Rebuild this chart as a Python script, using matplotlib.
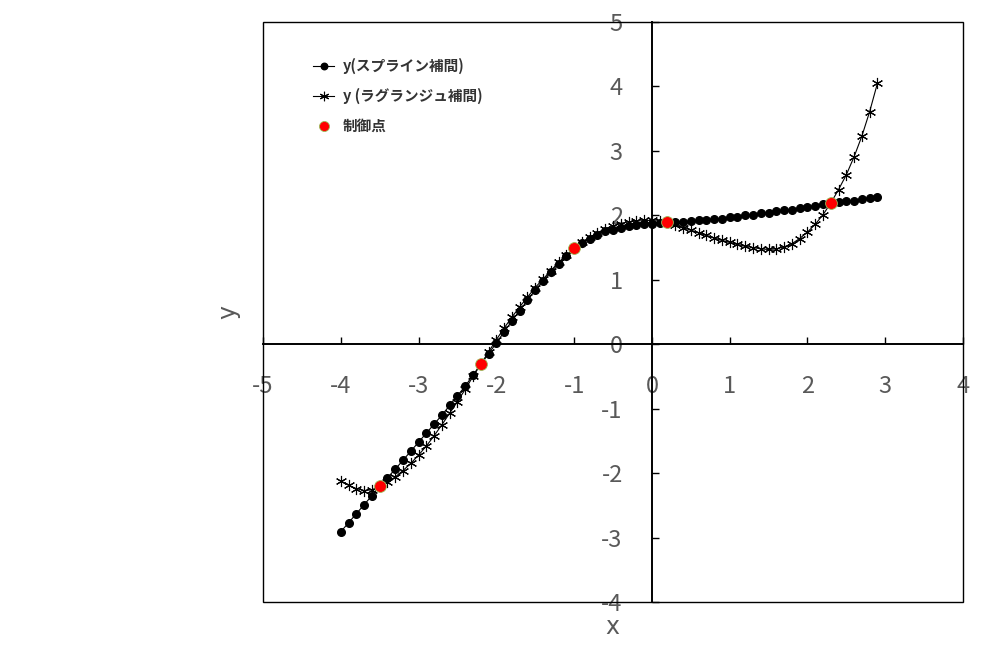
import numpy as np
import matplotlib
matplotlib.use("Agg")
import matplotlib.pyplot as plt
from matplotlib.patches import Rectangle

plt.rcParams['font.family'] = ['Noto Sans CJK JP', 'DejaVu Sans']
plt.rcParams['axes.unicode_minus'] = False

# x grid of the interpolated curves (-4.0 .. 2.9, step 0.1)
x_vals = [-4.0, -3.9, -3.8, -3.7, -3.6, -3.5, -3.4, -3.3, -3.2, -3.1,
          -3.0, -2.9, -2.8, -2.7, -2.6, -2.5, -2.4, -2.3, -2.2, -2.1,
          -2.0, -1.9, -1.8, -1.7, -1.6, -1.5, -1.4, -1.3, -1.2, -1.1,
          -1.0, -0.9, -0.8, -0.7, -0.6, -0.5, -0.4, -0.3, -0.2, -0.1,
          0.0, 0.1, 0.2, 0.3, 0.4, 0.5, 0.6, 0.7, 0.8, 0.9,
          1.0, 1.1, 1.2, 1.3, 1.4, 1.5, 1.6, 1.7, 1.8, 1.9,
          2.0, 2.1, 2.2, 2.3, 2.4, 2.5, 2.6, 2.7, 2.8, 2.9]

y_spline = [-2.91, -2.77, -2.63, -2.49, -2.35, -2.20, -2.07, -1.94, -1.80, -1.66,
            -1.52, -1.38, -1.24, -1.10, -0.95, -0.80, -0.65, -0.48, -0.31, -0.15,
            0.02, 0.19, 0.36, 0.52, 0.68, 0.84, 0.98, 1.12, 1.25, 1.37,
            1.48, 1.57, 1.64, 1.70, 1.75, 1.78, 1.81, 1.83, 1.85, 1.86,
            1.87, 1.88, 1.89, 1.895, 1.90, 1.91, 1.92, 1.93, 1.94, 1.95,
            1.97, 1.98, 2.00, 2.01, 2.03, 2.04, 2.06, 2.08, 2.09, 2.11,
            2.13, 2.15, 2.17, 2.19, 2.20, 2.22, 2.23, 2.25, 2.27, 2.29]

y_lagrange = [-2.12, -2.19, -2.24, -2.27, -2.26, -2.20, -2.14, -2.06, -1.96, -1.85,
              -1.72, -1.58, -1.42, -1.25, -1.07, -0.89, -0.70, -0.50, -0.31, -0.12,
              0.07, 0.25, 0.42, 0.58, 0.73, 0.88, 1.01, 1.14, 1.27, 1.38,
              1.49, 1.58, 1.66, 1.73, 1.79, 1.84, 1.87, 1.90, 1.91, 1.92,
              1.92, 1.91, 1.89, 1.85, 1.81, 1.77, 1.73, 1.69, 1.65, 1.61,
              1.58, 1.55, 1.52, 1.50, 1.48, 1.47, 1.48, 1.51, 1.56, 1.64,
              1.74, 1.86, 2.01, 2.19, 2.40, 2.63, 2.91, 3.23, 3.61, 4.05]

# control points
ctrl_x = [-3.5, -2.2, -1.0, 0.2, 2.3]
ctrl_y = [-2.20, -0.31, 1.49, 1.89, 2.19]

labels = ['y(スプライン補間)', 'y (ラグランジュ補間)', '制御点']
x_ticks = [-5, -4, -3, -2, -1, 0, 1, 2, 3, 4]
y_ticks = [-4, -3, -2, -1, 0, 1, 2, 3, 4, 5]

gray = '#595959'

fig = plt.figure(figsize=(9.87, 6.48), dpi=100)
ax = fig.add_axes([263/987, 46/648, 700/987, 580/648])

ax.plot(x_vals, y_spline, '-', color='black', lw=0.8, marker='o', ms=5.5,
        mfc='black', mec='black', label=labels[0], zorder=3)
ax.plot(x_vals, y_lagrange, '-', color='black', lw=0.8, marker=(6, 2, 0), ms=8,
        mec='black', mew=0.8, label=labels[1], zorder=2)
ax.plot(ctrl_x, ctrl_y, 'o', color='#ff0000', ms=8.5, mec='#9bbb59', mew=0.6,
        label=labels[2], zorder=4)

ax.set_xlim(-5, 4)
ax.set_ylim(-4, 5)
ax.set_xticks(x_ticks)
ax.set_yticks(y_ticks)

for side in ['left', 'bottom']:
    ax.spines[side].set_position(('data', 0))
    ax.spines[side].set_linewidth(1.4)
for side in ['top', 'right']:
    ax.spines[side].set_visible(False)
ax.add_patch(Rectangle((0, 0), 1, 1, transform=ax.transAxes, fill=False,
                       lw=1.0, edgecolor='black', clip_on=False, zorder=5))

ax.tick_params(axis='both', direction='in', length=5, width=1.0,
               labelsize=17, labelcolor=gray)
ax.tick_params(axis='x', pad=22)
ax.tick_params(axis='y', pad=21)

fig.text(612/987, 1 - 627/648, 'x', ha='center', va='center', fontsize=17,
         color=gray, family='DejaVu Sans')
fig.text(228/987, 1 - 312/648, 'y', ha='center', va='center', fontsize=17,
         color=gray, rotation=90, family='DejaVu Sans')

leg = ax.legend(loc='upper left', bbox_to_anchor=(313/987, 1 - 58/648),
                bbox_transform=fig.transFigure, frameon=False, fontsize=10.5,
                borderaxespad=0, borderpad=0, labelspacing=0.95,
                handlelength=1.45, handletextpad=0.6, markerscale=0.85)
for t in leg.get_texts():
    t.set_fontweight('bold')
    t.set_color('#333333')

fig.savefig('out.png', dpi=100)
